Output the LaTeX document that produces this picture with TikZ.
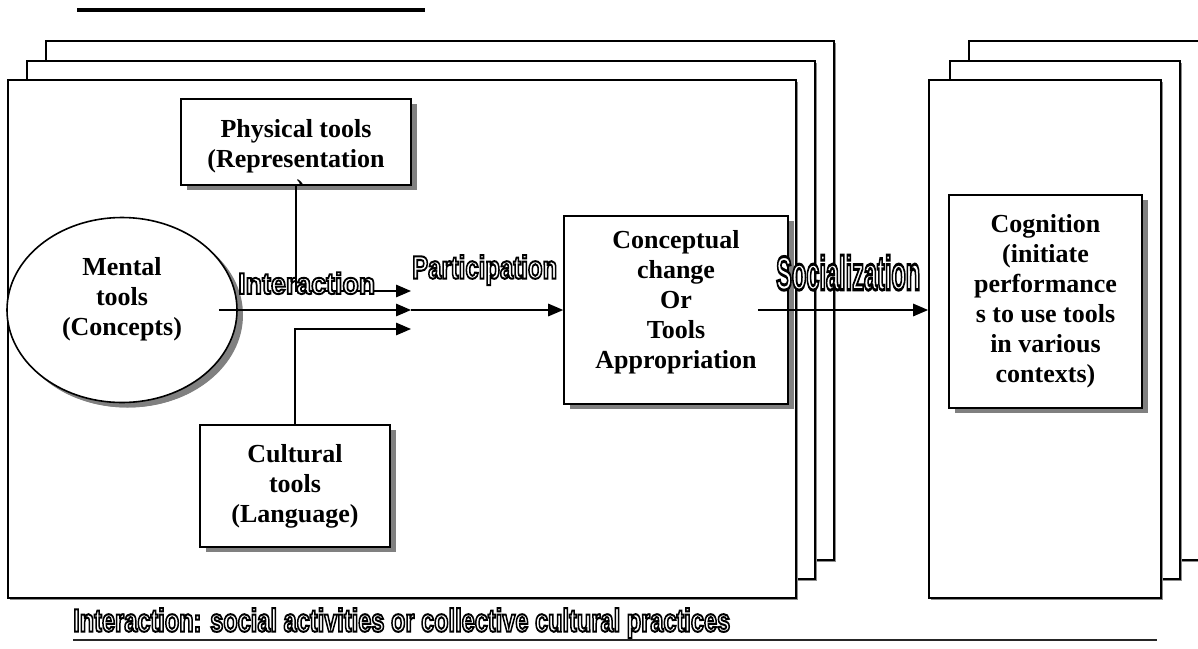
\documentclass[tikz,border=0pt]{standalone}
\usepackage{fontspec}
\setmainfont{Liberation Serif}
\newfontfamily\labelfont{Liberation Sans}
\usetikzlibrary{arrows.meta,shapes.geometric,calc,shadows}
\newcommand\outlined[3]{\resizebox*{#1}{#2}{\labelfont\bfseries\fontsize{30}{30}\selectfont\special{pdf:literal direct 2 Tr 1.9 w 1 g 0 G}#3\special{pdf:literal direct 0 Tr}}}
\tikzset{
  frame/.style={draw, line width=1.8pt, fill=white, rectangle, inner sep=0pt,
    drop shadow={shadow xshift=1.5pt, shadow yshift=-1.5pt, fill=black!45, opacity=1}},
  box/.style={draw, line width=1.6pt, fill=white, rectangle, inner sep=0pt, align=center,
    font=\bfseries\fontsize{26}{30}\selectfont,
    drop shadow={shadow xshift=6pt, shadow yshift=-5pt, fill=black!50, opacity=1}},
  boxtext/.style={inner sep=0pt, align=center, font=\bfseries\fontsize{26}{30}\selectfont},
  arr/.style={line width=1.5pt, -{Triangle[length=15pt,width=12.5pt]}},
  lab/.style={inner sep=0pt, anchor=north west},
}
\begin{document}
\begin{tikzpicture}[x=1pt,y=-1pt]
\useasboundingbox (0,0) rectangle (1198,648);
\clip (0,0) rectangle (1198,648);

% top rule
\draw[line width=4pt] (77,10) -- (425,10);

% left stack of frames
\node[frame, minimum width=788pt, minimum height=519pt] (lf3) at (440,300.5) {};
\node[frame, minimum width=788pt, minimum height=518pt] (lf2) at (421,320) {};
\node[frame, minimum width=788pt, minimum height=518pt] (lf1) at (402,339) {};

% right stack of frames
\node[frame, minimum width=271pt, minimum height=519pt] (rf3) at (1104.5,300.5) {};
\node[frame, minimum width=230pt, minimum height=518pt] (rf2) at (1065,320) {};
\node[frame, minimum width=232pt, minimum height=518pt] (rf1) at (1045,339) {};

% boxes
\node[box, minimum width=230pt, minimum height=86pt] (phys) at (296,142) {};
\begin{scope}
  \clip (phys.south west) rectangle (phys.north east);
  \node[boxtext, anchor=north] (physlabel) at (296,119) {Physical tools\\(Representation\\s)};
\end{scope}

\node[box, shape=ellipse, minimum width=230pt, minimum height=185pt,
  drop shadow={shadow xshift=5pt, shadow yshift=-5pt, fill=black!50, opacity=1}] (mental) at (122,310) {};
\node[boxtext] (mentaltext) at (122,299) {Mental\\tools\\(Concepts)};

\node[box, minimum width=190pt, minimum height=122pt] (cult) at (295,486) {Cultural\\tools\\(Language)};

\node[box, minimum width=224pt, minimum height=188pt] (concept) at (676,310) {};
\node[boxtext] (concepttext) at (676,302) {Conceptual\\change\\Or\\Tools\\Appropriation};

\node[box, minimum width=193pt, minimum height=213pt] (cog) at (1045.5,301.5)
  {Cognition\\(initiate\\performance\\s to use tools\\in various\\contexts)};

% connectors
\coordinate (in1) at (411,291);
\coordinate (in2) at (411,310);
\coordinate (in3) at (411,329);
\coordinate (m0) at ($(mental.east)+(-19,0)$);
\coordinate (c0) at ($(concept.east)+(-31,0)$);

\draw[arr] (phys.south) |- (in1);
\draw[arr] (cult.north) |- (in3);
\draw[arr] (m0) -- (in2);
\draw[arr] (in2) -- (concept.west);
\draw[arr] (c0) -- (c0 -| rf1.west);

% outlined labels
\node[lab] (interlabel) at (238,272) {\outlined{137pt}{22pt}{Interaction}};
\node[lab] (partlabel) at (412,255) {\outlined{145pt}{30pt}{Participation}};
\node[lab] (soclabel) at (776,255) {\outlined{144pt}{35pt}{Socialization}};
\node[lab] (bottomlabel) at (73,608) {\outlined{657pt}{30pt}{Interaction: social activities or collective cultural practices}};

% bottom rule
\draw[line width=2pt, black!85] (73,640) -- (1157,640);
\end{tikzpicture}
\end{document}
